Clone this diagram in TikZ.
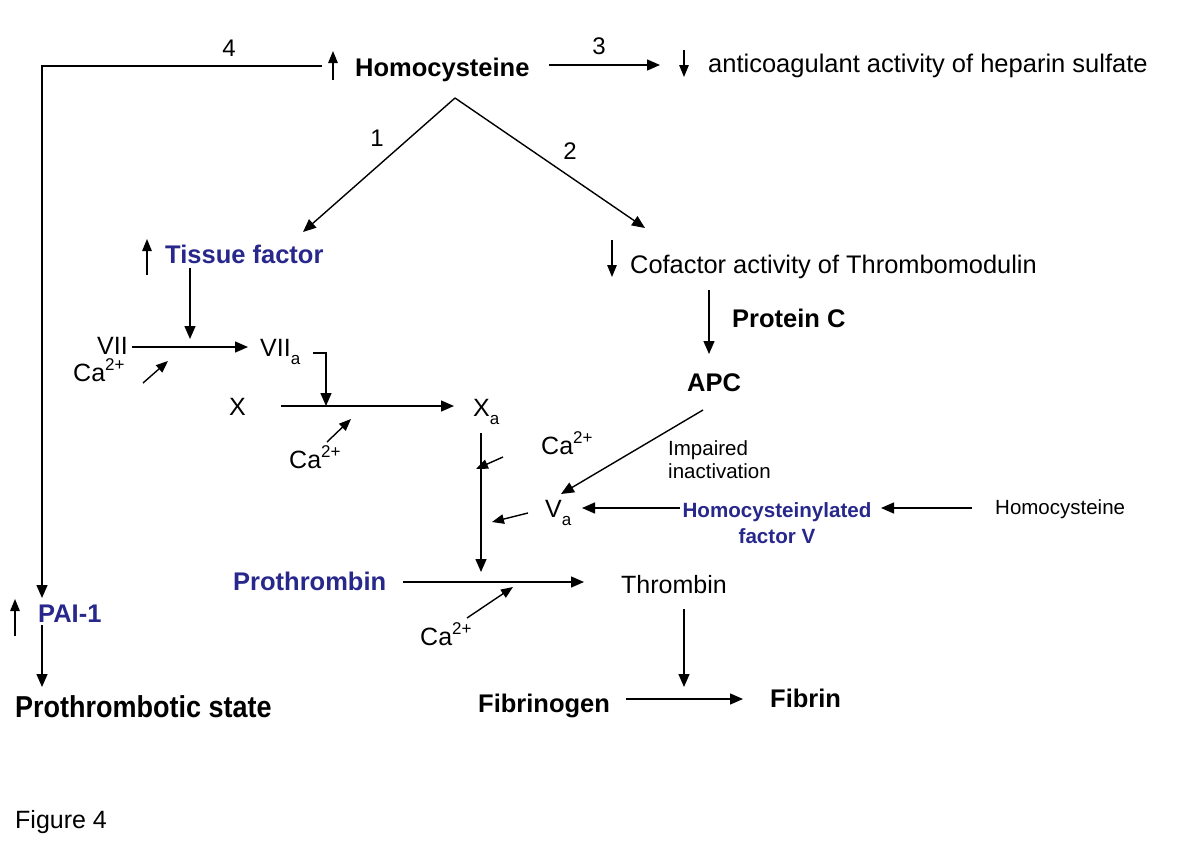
\documentclass[tikz,border=0pt]{standalone}
\usepackage{fontspec}
\setmainfont{Liberation Sans}
\usetikzlibrary{arrows.meta}
\definecolor{tfblue}{RGB}{40,40,140}
\newcommand\casup[1]{\raisebox{0.42em}{\fontsize{17}{17}\selectfont #1}}
\newcommand\subsa[1]{\raisebox{-0.32em}{\fontsize{17}{17}\selectfont #1}}
\begin{document}
\begin{tikzpicture}[x=1pt,y=-1pt,
  lbl/.style={inner sep=0pt, anchor=base west, font=\fontsize{25}{30}\selectfont},
  blbl/.style={inner sep=0pt, anchor=base west, font=\fontsize{25.5}{30}\selectfont\bfseries},
  small/.style={inner sep=0pt, anchor=base west, font=\fontsize{20.5}{24}\selectfont},
  hvlbl/.style={inner sep=0pt, anchor=base, text=tfblue, font=\fontsize{20.6}{24}\selectfont\bfseries},
  num/.style={inner sep=0pt, anchor=base, font=\fontsize{24}{28}\selectfont},
  conn/.style={line width=1.4pt, -{Triangle[length=13pt,width=11pt]}},
  updown/.style={line width=1.4pt, -{Triangle[length=12pt,width=9.5pt]}},
]
\useasboundingbox (0,0) rectangle (1200,847);
\fill[white] (0,0) rectangle (1200,847);

% ---------- nodes ----------
\node[num] (n4) at (229,56) {4};
\node[num] (n3) at (599,54) {3};
\node[num] (n1) at (377,146) {1};
\node[num] (n2) at (570,159) {2};
\node[blbl] (hcy) at (355,76) {Homocysteine};
\node[lbl, font=\fontsize{25.5}{30}\selectfont] (hep) at (708,72) {anticoagulant activity of heparin sulfate};
\node[blbl, text=tfblue] (tf) at (165,263) {Tissue factor};
\node[lbl, font=\fontsize{25.4}{30}\selectfont] (tm) at (630,273) {Cofactor activity of Thrombomodulin};
\node[blbl] (pc) at (732,327) {Protein C};
\node[lbl] (vii) at (97,354) {VII};
\node[lbl] (viia) at (260,356) {VII\subsa{a}};
\node[lbl] (ca1) at (73,381) {Ca\casup{2+}};
\node[lbl] (x) at (229,415) {X};
\node[lbl] (xa) at (473,416) {X\subsa{a}};
\node[blbl] (apc) at (687,391) {APC};
\node[lbl] (ca2) at (289,468) {Ca\casup{2+}};
\node[lbl] (ca3) at (541,454) {Ca\casup{2+}};
\node[small] (imp1) at (668,455) {Impaired};
\node[small] (imp2) at (668,478) {inactivation};
\node[lbl] (va) at (545,517) {V\subsa{a}};
\node[hvlbl] (hv1) at (777,517) {Homocysteinylated};
\node[hvlbl] (hv2) at (777,543) {factor V};
\node[small] (hcy2) at (995,514) {Homocysteine};
\node[blbl, text=tfblue] (pro) at (233,590) {Prothrombin};
\node[lbl] (thr) at (621,593) {Thrombin};
\node[lbl] (ca4) at (420,645) {Ca\casup{2+}};
\node[blbl, text=tfblue] (pai) at (38,622) {PAI-1};
\node[blbl] (fbg) at (478,712) {Fibrinogen};
\node[blbl] (fbn) at (770,707) {Fibrin};
\node[blbl, font=\fontsize{27}{30}\selectfont\bfseries] (pts) at (15,717) {\scalebox{1}[1.12]{Prothrombotic state}};
\node[lbl] (fig) at (15,828) {Figure 4};

% ---------- coordinates ----------
\coordinate (l4a) at (322,66);
\coordinate (l4b) at (42,66);
\coordinate (l4c) at (42,598);
\coordinate (uphcyA) at (333,80);
\coordinate (uphcyB) at (333,51);
\coordinate (l3a) at (549,65);
\coordinate (l3b) at (660,65);
\coordinate (dnhepA) at (684,50);
\coordinate (dnhepB) at (684,77);
\coordinate (apex) at (455,98);
\coordinate (l1b) at (303,232);
\coordinate (l2b) at (645,228);
\coordinate (uptfA) at (147,275);
\coordinate (uptfB) at (147,239);
\coordinate (tfA) at (190,268);
\coordinate (tfB) at (190,339);
\coordinate (v7A) at (132,347);
\coordinate (v7B) at (248,347);
\coordinate (c1A) at (143,383);
\coordinate (c1B) at (168,361);
\coordinate (b7A) at (313,353);
\coordinate (b7B) at (326,353);
\coordinate (b7C) at (326,406);
\coordinate (xA) at (281,406);
\coordinate (xB) at (454,406);
\coordinate (c2A) at (327,442);
\coordinate (c2B) at (351,419);
\coordinate (xaA) at (481,433);
\coordinate (xaB) at (481,572);
\coordinate (c3A) at (503,457);
\coordinate (c3B) at (476,469);
\coordinate (dntmA) at (612,240);
\coordinate (dntmB) at (612,277);
\coordinate (pcA) at (709,290);
\coordinate (pcB) at (709,354);
\coordinate (apcA) at (703,410);
\coordinate (apcB) at (561,494);
\coordinate (hvA) at (680,508);
\coordinate (hvB) at (582,508);
\coordinate (vaA) at (528,513);
\coordinate (vaB) at (492,522);
\coordinate (hcA) at (972,508);
\coordinate (hcB) at (881,508);
\coordinate (prA) at (403,582);
\coordinate (prB) at (584,582);
\coordinate (c4A) at (467,618);
\coordinate (c4B) at (513,587);
\coordinate (thA) at (684,609);
\coordinate (thB) at (684,687);
\coordinate (fbA) at (626,699);
\coordinate (fbB) at (743,699);
\coordinate (uppaiA) at (15,636);
\coordinate (uppaiB) at (15,599);
\coordinate (paiA) at (42,625);
\coordinate (paiB) at (42,687);

% ---------- connectors ----------
\draw[conn] (l4a) -- (l4b) -- (l4c);
\draw[updown] (uphcyA) -- (uphcyB);
\draw[conn] (l3a) -- (l3b);
\draw[updown] (dnhepA) -- (dnhepB);
\draw[conn] (apex) -- (l1b);
\draw[conn] (apex) -- (l2b);
\draw[updown] (uptfA) -- (uptfB);
\draw[conn] (tfA) -- (tfB);
\draw[conn] (v7A) -- (v7B);
\draw[updown] (c1A) -- (c1B);
\draw[conn] (b7A) -- (b7B) -- (b7C);
\draw[conn] (xA) -- (xB);
\draw[updown] (c2A) -- (c2B);
\draw[conn] (xaA) -- (xaB);
\draw[updown] (c3A) -- (c3B);
\draw[updown] (dntmA) -- (dntmB);
\draw[conn] (pcA) -- (pcB);
\draw[conn] (apcA) -- (apcB);
\draw[conn] (hvA) -- (hvB);
\draw[updown] (vaA) -- (vaB);
\draw[conn] (hcA) -- (hcB);
\draw[conn] (prA) -- (prB);
\draw[updown] (c4A) -- (c4B);
\draw[conn] (thA) -- (thB);
\draw[conn] (fbA) -- (fbB);
\draw[updown] (uppaiA) -- (uppaiB);
\draw[conn] (paiA) -- (paiB);
\end{tikzpicture}
\end{document}
